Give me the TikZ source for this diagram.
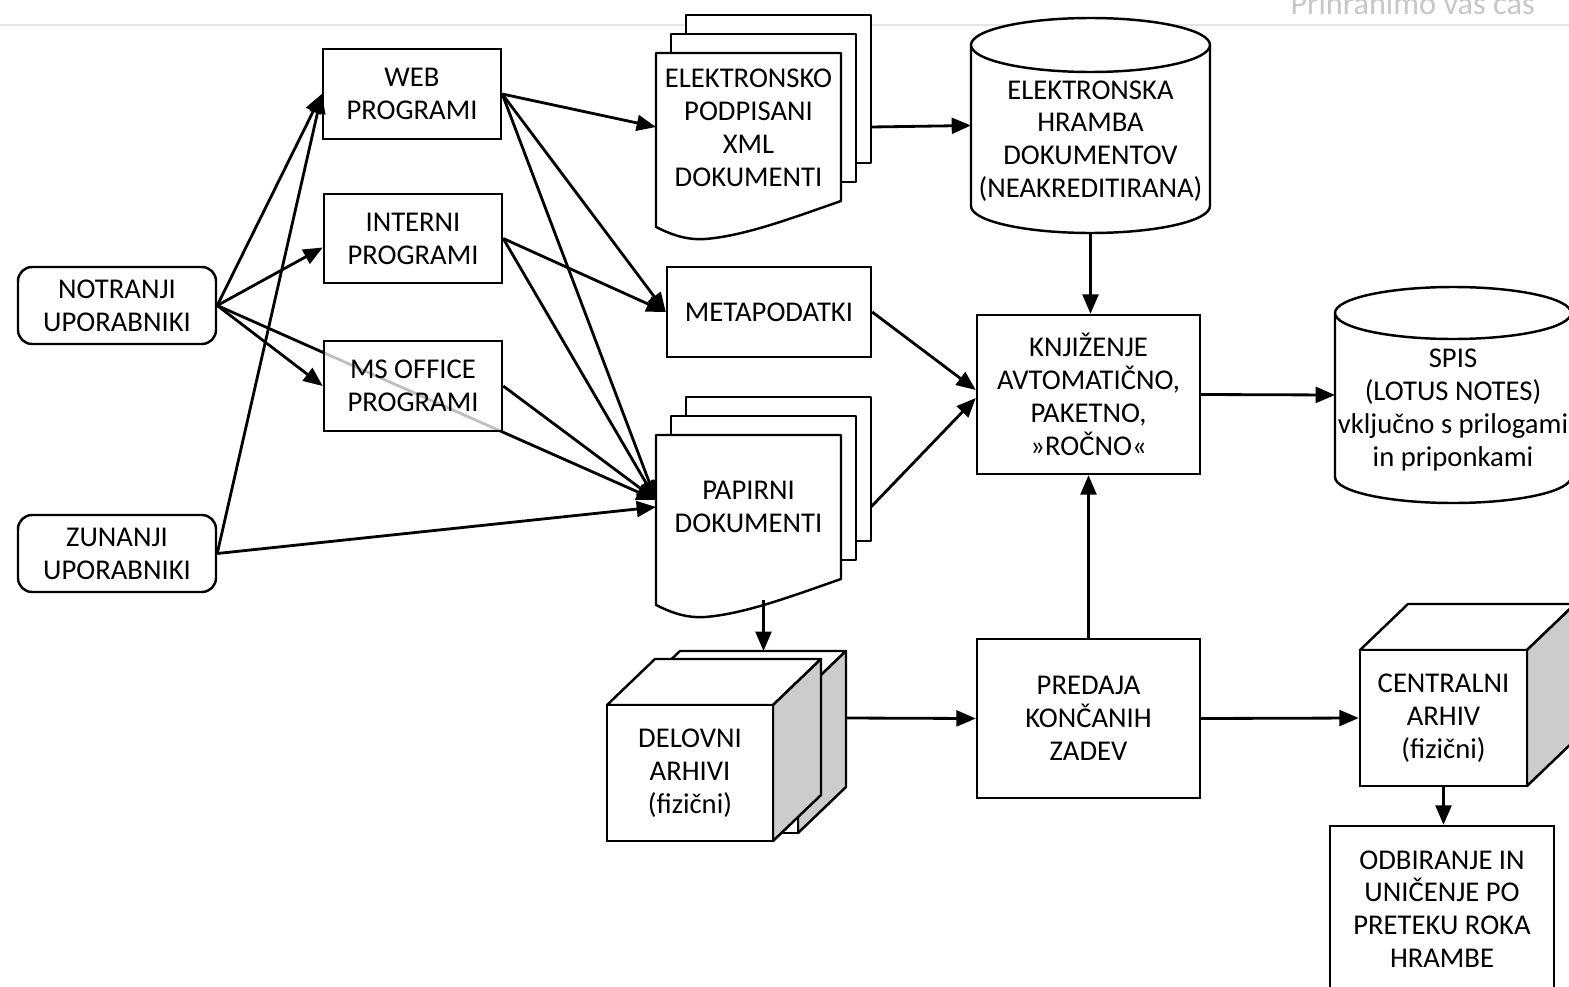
\documentclass[tikz,border=0pt]{standalone}
\usepackage{fontspec}
\setmainfont{Carlito}
\usetikzlibrary{arrows.meta}
\tikzset{
  txt/.style={align=center, font=\fontsize{16.3}{18.7}\selectfont, inner sep=0pt},
  box/.style={txt, draw, line width=1.4pt, fill=white},
  userbox/.style={box, rounded corners=8pt},
  ghost/.style={inner sep=0pt, outer sep=0pt},
  page/.style={draw, line width=1.4pt, fill=white, line join=round},
  side/.style={page, fill=black!20},
  arr/.style={line width=1.6pt, -{Triangle[length=11pt,width=9pt]}}
}
\begin{document}
\begin{tikzpicture}[x=0.02cm,y=-0.02cm]
\pgfmathsetlengthmacro\pxl{0.02cm}
\useasboundingbox (0,0) rectangle (1569,987);
\draw[color=black!10, line width=0.8pt] (0,25) -- (1569,25);
\node[anchor=base east, inner sep=0pt, text=black!22, font=\fontsize{18.4}{20}\selectfont] (header) at (1535,14) {Prihranimo vaš čas};
\node[userbox, minimum width=198*\pxl, minimum height=77*\pxl] (notranji) at (117,305.5) {NOTRANJI\\UPORABNIKI};
\node[userbox, minimum width=198*\pxl, minimum height=77*\pxl] (zunanji) at (117,553.5) {ZUNANJI\\UPORABNIKI};
\node[box, minimum width=178*\pxl, minimum height=90*\pxl] (web) at (412,94) {WEB\\PROGRAMI};
\node[box, minimum width=178*\pxl, minimum height=89*\pxl] (interni) at (413,238.5) {INTERNI\\PROGRAMI};
\foreach \y/\h in {53/148,435/144}{
  \foreach \i in {2,1} \draw[page] (656+15*\i,\y-19*\i) rectangle ++(185,\h);
  \draw[page] (656,\y) -- (656,\y+\h+26) .. controls (674,\y+\h+35) and (688,\y+\h+39) .. (705,\y+\h+38) .. controls (745,\y+\h+35) and (795,\y+\h+16) .. (841,\y+\h) -- (841,\y) -- cycle;
}
\node[ghost, minimum width=215*\pxl, minimum height=2*\pxl] (elektronsko) at (763.5,127) {};
\node[txt] (elektronsko-txt) at (748.5,128) {ELEKTRONSKO\\PODPISANI\\XML\\DOKUMENTI};
\node[ghost, minimum width=215*\pxl, minimum height=200*\pxl] (papirni) at (763.5,500) {};
\node[txt] (papirni-txt) at (748.5,507) {PAPIRNI\\DOKUMENTI};
\node[box, minimum width=204*\pxl, minimum height=90*\pxl] (metapodatki) at (769,312) {METAPODATKI};
\draw[arr] (notranji.east) -- (papirni.west);
\node[box, fill opacity=0.75, text opacity=1, minimum width=178*\pxl, minimum height=90*\pxl] (msoffice) at (413,386) {MS OFFICE\\PROGRAMI};
\foreach \cx/\rx/\ta/\tb/\ry in {1090.5/119.5/45/206/27,1453/118/313/477/26}{
  \draw[page] (\cx-\rx,\ta) -- (\cx-\rx,\tb) arc[start angle=180, end angle=0, x radius=\rx, y radius=\ry] -- (\cx+\rx,\ta);
  \draw[page] (\cx,\ta) ellipse[x radius=\rx, y radius=\ry];
}
\node[ghost, minimum width=239*\pxl, minimum height=215*\pxl] (hramba) at (1090.5,125.5) {};
\node[txt] (hramba-txt) at (1090.5,141) {ELEKTRONSKA\\HRAMBA\\DOKUMENTOV\\(NEAKREDITIRANA)};
\node[ghost, minimum width=236*\pxl, minimum height=216*\pxl] (spis) at (1453,395) {};
\node[txt] (spis-txt) at (1453,410) {SPIS\\(LOTUS NOTES)\\vključno s prilogami\\in priponkami};
\node[box, minimum width=223*\pxl, minimum height=159*\pxl] (knjizenje) at (1088.5,394.5) {KNJIŽENJE\\AVTOMATIČNO,\\PAKETNO,\\»ROČNO«};
\node[box, minimum width=223*\pxl, minimum height=159*\pxl] (predaja) at (1088.5,718.5) {PREDAJA\\KONČANIH\\ZADEV};
\foreach \x/\y/\w/\n/\t in {632/697/166/delovni-back/{}, 607/705/166/delovni-front/{DELOVNI\\ARHIVI\\(fizični)}, 1360/650/167/centralni/{CENTRALNI\\ARHIV\\(fizični)}}{
  \draw[page] (\x,\y) -- ++(48,-46) -- ++(\w,0) -- ++(-48,46) -- cycle;
  \draw[side] (\x+\w,\y) -- ++(48,-46) -- ++(0,136) -- ++(-48,46) -- cycle;
  \node[box, minimum width=\w*\pxl, minimum height=136*\pxl] (\n) at (\x+\w/2,\y+68) {\t};
}
\node[ghost, minimum width=239*\pxl, minimum height=134*\pxl] (delovni) at (726.5,718) {};
\node[box, minimum width=224*\pxl, minimum height=166*\pxl] (odbiranje) at (1442,909) {ODBIRANJE IN\\UNIČENJE PO\\PRETEKU ROKA\\HRAMBE};
\draw[arr] (notranji.east) -- (web.west);
\draw[arr] (notranji.east) -- ([yshift=-0.18cm]interni.west);
\draw[arr] (notranji.east) -- (msoffice.west);
\draw[arr] (zunanji.east) -- (web.west);
\draw[arr] (zunanji.east) -- ([yshift=-0.14cm]papirni.west);
\draw[arr] (web.east) -- (elektronsko.west);
\draw[arr] (web.east) -- (metapodatki.west);
\draw[arr] (web.east) -- (papirni.west);
\draw[arr] (interni.east) -- (metapodatki.west);
\draw[arr] (interni.east) -- (papirni.west);
\draw[arr] (msoffice.east) -- (papirni.west);
\draw[arr] (elektronsko.east) -- (hramba.west);
\draw[arr] (hramba.south) -- (hramba.south |- knjizenje.north);
\draw[arr] (metapodatki.east) -- ([yshift=0.09cm]knjizenje.west);
\draw[arr] ([yshift=-0.14cm]papirni.east) -- ([yshift=-0.07cm]knjizenje.west);
\draw[arr] (knjizenje.east) -- (spis.west);
\draw[arr] (papirni.south) -- (papirni.south |- delovni.north);
\draw[arr] (delovni.east) -- (predaja.west);
\draw[arr] (predaja.north) -- (knjizenje.south);
\draw[arr] (predaja.east) -- (centralni.west);
\draw[arr] (centralni.south) -- (centralni.south |- odbiranje.north);
\end{tikzpicture}
\end{document}
